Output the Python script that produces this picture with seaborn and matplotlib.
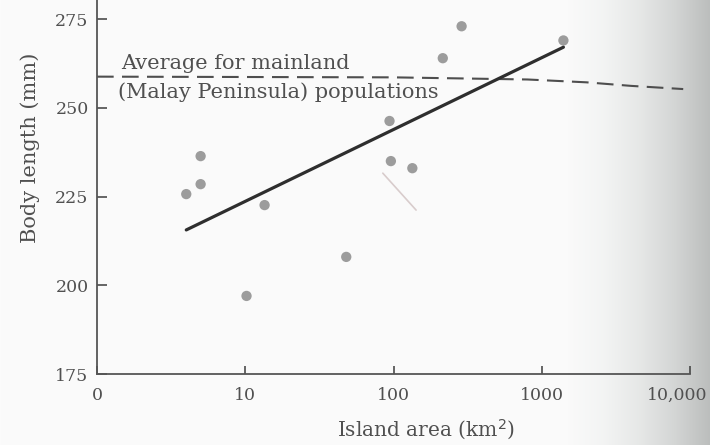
import numpy as np
import pandas as pd
import matplotlib
matplotlib.use("Agg")
import matplotlib.pyplot as plt
import matplotlib.transforms as mtransforms
import seaborn as sns

# Island populations: island area (km^2) and mean body length (mm)
island_area = [4.0, 5.0, 5.0, 10.2, 13.5, 48, 94, 96, 134, 215, 288, 1400]
body_length = [225.7, 228.5, 236.4, 197.0, 222.6, 208.0, 246.3, 235.0, 233.0, 264.0, 273.0, 269.0]

# Fitted trend line end points
trend_area = [4.0, 1400]
trend_length = [215.6, 267.1]

# Mainland (Malay Peninsula) average, drawn as a dashed reference curve
mainland_area = [1, 100, 800, 2000, 4000, 9000]
mainland_length = [258.8, 258.6, 258.0, 257.2, 256.2, 255.3]

# Faint pencil stroke on the page
stroke_area = [84.7, 142]
stroke_length = [231.6, 221.2]

x_ticks = [1, 10, 100, 1000, 10000]
x_tick_labels = ["0", "10", "100", "1000", "10,000"]
y_ticks = [175, 200, 225, 250, 275]

sns.set_theme(style="white")
plt.rcParams["font.family"] = ["DejaVu Serif"]

ink = "#3c3c3c"
text_col = "#505050"

fig = plt.figure(figsize=(7.1, 4.45), dpi=100)

# Paper background with a soft shadow toward the right edge
bg = fig.add_axes([0, 0, 1, 1], zorder=-10)
w = 710
pos = np.linspace(0, 1, w)
prof = np.interp(pos, [0, 0.80, 0.85, 0.90, 0.95, 1.0], [251, 250, 244, 232, 214, 190])
tint = np.interp(pos, [0, 0.8, 1.0], [0.0, 0.0, 1.0])
img = np.stack([prof * (1 - 0.012 * tint), prof, prof * (1 - 0.005 * tint)], axis=-1)[None, :, :] / 255.0
bg.imshow(np.clip(img, 0, 1), aspect="auto", extent=[0, 1, 0, 1])
bg.set_axis_off()

ax = fig.add_axes([97 / 710, 1 - 374 / 445, (690 - 97) / 710, 374 / 445])
ax.set_facecolor("none")

df = pd.DataFrame({"area": island_area, "length": body_length})
sns.scatterplot(data=df, x="area", y="length", ax=ax, s=55, color="#9c9c9c",
                edgecolor="none", zorder=3)

sns.lineplot(x=trend_area, y=trend_length, ax=ax, color="#2e2e2e", lw=2.3, zorder=4)
sns.lineplot(x=mainland_area, y=mainland_length, ax=ax, color="#4e4e4e", lw=1.5,
             zorder=2).lines[-1].set_dashes([8, 4])
sns.lineplot(x=stroke_area, y=stroke_length, ax=ax, color="#d8cccc", lw=1.2, zorder=1)

ax.set_xscale("log")
ax.set_xlim(1, 10000)
ax.set_ylim(175, 280.4)

ax.set_xticks(x_ticks)
ax.set_xticklabels(x_tick_labels)
ax.xaxis.set_minor_locator(matplotlib.ticker.NullLocator())
ax.set_yticks(y_ticks)

ax.tick_params(axis="x", direction="in", length=6, width=1.1, color=ink,
               labelsize=12.5, labelcolor=text_col, pad=9, bottom=True)
ax.tick_params(axis="y", direction="in", length=7, width=1.1, color=ink,
               labelsize=12.5, labelcolor=text_col, pad=6, left=True)

# The last x label sits a little to the left of its tick
last = ax.get_xticklabels()[-1]
last.set_transform(last.get_transform() +
                   mtransforms.ScaledTranslation(-13 / 100, 0, fig.dpi_scale_trans))

for side in ["top", "right"]:
    ax.spines[side].set_visible(False)
for side in ["left", "bottom"]:
    ax.spines[side].set_color("#555555")
    ax.spines[side].set_linewidth(1.3)

ax.set_xlabel("")
ax.set_ylabel("")
fig.text(426 / 710, 1 - 430 / 445, "Island area (km$^2$)", ha="center", va="center",
         fontsize=14.5, color=text_col)
fig.text(30 / 710, 1 - 148 / 445, "Body length (mm)", ha="center", va="center",
         rotation=90, fontsize=15, color=text_col)

ax.text(1.45, 259.8, "Average for mainland", ha="left", va="bottom",
        fontsize=15, color=text_col)
ax.text(1.39, 257.3, "(Malay Peninsula) populations", ha="left", va="top",
        fontsize=15, color=text_col)

fig.savefig("out.png", dpi=100)
